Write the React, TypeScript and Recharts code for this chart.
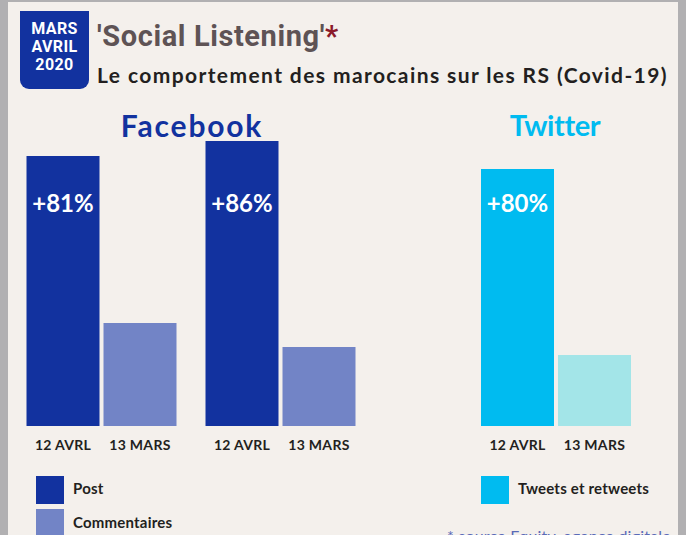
import { BarChart, Bar, XAxis, YAxis, LabelList } from 'recharts';

// bar heights (tallest bar = 100)
const fbGroups = ['Facebook 1', 'Facebook 2'];
const fbPost = [94.7, 100];
const fbComments = [36.1, 27.7];
const fbGrowth = ['+81%', '+86%'];

const twGroups = ['Twitter'];
const twTweets = [90.2];
const twMars = [24.9];
const twGrowth = ['+80%'];

const dateLabels = ['12 AVRL', '13 MARS'];

const legendLeft = [
  { label: 'Post', color: '#12329f' },
  { label: 'Commentaires', color: '#7284c6' },
];
const legendRight = [{ label: 'Tweets et retweets', color: '#00bbf0' }];

const FONT = 'Lato, "Open Sans", sans-serif';
const INK = '#231f20';

const fbData = fbGroups.map((g, i) => ({
  group: g,
  avril: fbPost[i],
  mars: fbComments[i],
  growth: fbGrowth[i],
  aprLabel: dateLabels[0],
  marLabel: dateLabels[1],
}));

const twData = twGroups.map((g, i) => ({
  group: g,
  avril: twTweets[i],
  mars: twMars[i],
  growth: twGrowth[i],
  aprLabel: dateLabels[0],
  marLabel: dateLabels[1],
}));

const GrowthLabel = (props: any) => {
  const { x, width, value } = props;
  return (
    <text
      x={Number(x) + Number(width) / 2}
      y={102}
      fill="#ffffff"
      textAnchor="middle"
      dominantBaseline="central"
      fontSize={24}
      fontWeight={700}
      fontFamily={FONT}
    >
      {value}
    </text>
  );
};

const dateLabelStyle = {
  position: 'bottom' as const,
  offset: 14,
  fill: INK,
  fontSize: 14,
  fontWeight: 700,
  fontFamily: FONT,
  letterSpacing: 0.3,
};

const axisLine = { stroke: '#333333', strokeWidth: 2 };

const legendText = {
  position: 'absolute' as const,
  fontSize: 15,
  lineHeight: '20px',
  fontWeight: 700,
  color: INK,
  letterSpacing: 0.2,
  whiteSpace: 'nowrap' as const,
};

const App = () => {
  return (
    <div
      style={{
        position: 'absolute',
        left: 0,
        top: 0,
        width: 686,
        height: 535,
        background: '#b1b0b2',
        overflow: 'hidden',
        fontFamily: FONT,
      }}
    >
      <div
        style={{
          position: 'absolute',
          left: 8,
          top: 2,
          width: 670,
          height: 533,
          background: '#f4f0ec',
        }}
      />

      {/* date badge */}
      <div
        style={{
          position: 'absolute',
          left: 20,
          top: 11,
          width: 69,
          height: 78,
          background: '#12329f',
          borderRadius: '0 0 9px 9px',
          color: '#fff',
          fontFamily: 'Roboto, sans-serif',
          fontWeight: 700,
          fontSize: 16,
          lineHeight: '18px',
          letterSpacing: 0.4,
          textAlign: 'center',
          paddingTop: 9,
          boxSizing: 'border-box',
        }}
      >
        <div>MARS</div>
        <div>AVRIL</div>
        <div>2020</div>
      </div>

      <div
        style={{
          position: 'absolute',
          left: 97,
          top: 18,
          fontFamily: 'Roboto, sans-serif',
          fontWeight: 700,
          fontSize: 29,
          lineHeight: '36px',
          color: '#5e5355',
          letterSpacing: 0.6,
          whiteSpace: 'nowrap',
        }}
      >
        'Social Listening'<span style={{ color: '#8b1a2a' }}>*</span>
      </div>
      <div
        style={{
          position: 'absolute',
          left: 97,
          top: 62,
          fontWeight: 700,
          fontSize: 21,
          lineHeight: '26px',
          letterSpacing: 1.4,
          color: INK,
          whiteSpace: 'nowrap',
        }}
      >
        Le comportement des marocains sur les RS (Covid-19)
      </div>

      <div
        style={{
          position: 'absolute',
          left: 92,
          width: 200,
          top: 107,
          textAlign: 'center',
          fontWeight: 700,
          fontSize: 30,
          lineHeight: '36px',
          letterSpacing: 1.8,
          color: '#12329f',
        }}
      >
        Facebook
      </div>
      <div
        style={{
          position: 'absolute',
          left: 455,
          width: 200,
          top: 107,
          textAlign: 'center',
          fontWeight: 700,
          fontSize: 29,
          lineHeight: '36px',
          letterSpacing: -0.4,
          color: '#00bbf0',
        }}
      >
        Twitter
      </div>

      <div style={{ position: 'absolute', left: 0, top: 100 }}>
        <BarChart
          width={418}
          height={370}
          data={fbData}
          margin={{ top: 41, right: 0, bottom: 44, left: 26 }}
          barGap={4}
          barSize={73}
        >
          <XAxis
            dataKey="group"
            height={0}
            tick={false}
            tickLine={false}
            axisLine={axisLine}
            padding={{ left: -14.5, right: 48.5 }}
          />
          <YAxis hide domain={[0, 100]} />
          <Bar dataKey="avril" fill="#12329f" isAnimationActive={false}>
            <LabelList dataKey="growth" content={GrowthLabel} />
            <LabelList dataKey="aprLabel" {...dateLabelStyle} />
          </Bar>
          <Bar dataKey="mars" fill="#7284c6" isAnimationActive={false}>
            <LabelList dataKey="marLabel" {...dateLabelStyle} />
          </Bar>
        </BarChart>
      </div>

      <div style={{ position: 'absolute', left: 418, top: 100 }}>
        <BarChart
          width={268}
          height={370}
          data={twData}
          margin={{ top: 41, right: 55, bottom: 44, left: 0 }}
          barGap={4}
          barSize={73}
        >
          <XAxis
            dataKey="group"
            height={0}
            tick={false}
            tickLine={false}
            axisLine={axisLine}
            padding={{ left: 62, right: 0 }}
          />
          <YAxis hide domain={[0, 100]} />
          <Bar dataKey="avril" fill="#00bbf0" isAnimationActive={false}>
            <LabelList dataKey="growth" content={GrowthLabel} />
            <LabelList dataKey="aprLabel" {...dateLabelStyle} />
          </Bar>
          <Bar dataKey="mars" fill="#a3e5e8" isAnimationActive={false}>
            <LabelList dataKey="marLabel" {...dateLabelStyle} />
          </Bar>
        </BarChart>
      </div>

      {legendLeft.map((item, i) => (
        <div key={item.label}>
          <div
            style={{
              position: 'absolute',
              left: 36,
              top: 476 + i * 33,
              width: 28,
              height: 28,
              background: item.color,
            }}
          />
          <div style={{ ...legendText, left: 73, top: 478 + i * 34 }}>{item.label}</div>
        </div>
      ))}
      {legendRight.map((item, i) => (
        <div key={item.label}>
          <div
            style={{
              position: 'absolute',
              left: 481,
              top: 476 + i * 33,
              width: 28,
              height: 28,
              background: item.color,
            }}
          />
          <div style={{ ...legendText, left: 518, top: 478 + i * 34 }}>{item.label}</div>
        </div>
      ))}

      <div
        style={{
          position: 'absolute',
          left: 447,
          top: 526,
          fontSize: 16,
          lineHeight: '20px',
          letterSpacing: 0.2,
          color: '#5a6ab8',
          whiteSpace: 'nowrap',
        }}
      >
        * source Equity, agence digitale
      </div>
    </div>
  );
};

export default App;
